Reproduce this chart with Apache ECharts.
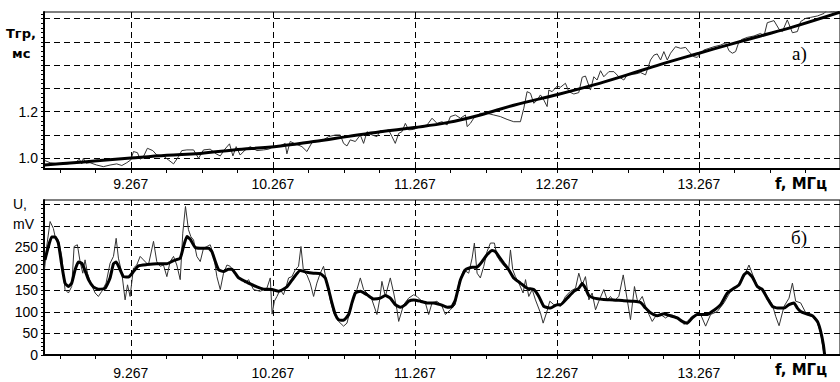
<!DOCTYPE html>
<html><head><meta charset="utf-8">
<script src="https://cdn.jsdelivr.net/npm/echarts@6/dist/echarts.min.js"></script>
<style>html,body{margin:0;padding:0;background:#fff}#c{width:840px;height:382px}</style>
</head><body><div id="c"></div>
<script>
// ---- tick labels / grid values ----
const xLabels = [9.267, 10.267, 11.267, 12.267, 13.267];
const topYLabels = [1.0, 1.2];
const topYGrid = [1.0, 1.1, 1.2, 1.3, 1.4, 1.5, 1.6];
const botYLabels = [0, 50, 100, 150, 200, 250];
const botYGrid = [50, 100, 150, 200, 250, 300, 350];

// ---- a) group delay, smooth fit [f MHz, ms] ----
const topCurve = [[8.66,0.971],[8.816,0.979],[9.051,0.990],[9.267,1.001],[9.521,1.013],[9.756,1.021],[9.991,1.036],[10.277,1.050],[10.554,1.072],[10.789,1.093],[11.024,1.114],[11.263,1.132],[11.494,1.153],[11.728,1.186],[11.963,1.228],[12.28,1.275],[12.527,1.315],[12.762,1.358],[12.997,1.403],[13.267,1.451],[13.467,1.486],[13.701,1.525],[13.936,1.565],[14.26,1.627]];

// ---- a) group delay, measured ----
const topNoisy = [[8.663,0.990],[8.699,0.981],[8.757,0.976],[8.816,0.976],[8.875,0.981],[8.905,0.996],[8.922,0.976],[8.933,1.000],[8.952,0.979],[8.98,0.981],[9.027,0.971],[9.074,0.964],[9.121,0.971],[9.168,0.976],[9.204,0.969],[9.239,0.981],[9.267,0.993],[9.286,1.029],[9.314,1.024],[9.333,0.996],[9.356,1.007],[9.384,1.043],[9.422,1.033],[9.45,1.014],[9.497,1.010],[9.532,0.993],[9.568,0.976],[9.603,1.007],[9.626,1.033],[9.662,1.036],[9.709,1.036],[9.744,1.000],[9.779,1.036],[9.826,1.039],[9.868,1.019],[9.897,1.010],[9.925,1.036],[9.962,1.062],[9.986,1.010],[10.009,1.050],[10.037,1.014],[10.073,1.036],[10.108,1.050],[10.155,1.033],[10.202,1.036],[10.237,1.039],[10.272,1.050],
[10.319,1.053],[10.354,1.064],[10.366,1.019],[10.389,1.072],[10.425,1.062],[10.472,1.050],[10.507,1.029],[10.542,1.067],[10.577,1.072],[10.624,1.079],[10.66,1.093],[10.707,1.100],[10.742,1.100],[10.765,1.064],[10.789,1.053],[10.812,1.079],[10.848,1.072],[10.883,1.100],[10.906,1.064],[10.93,1.114],[10.965,1.100],[11.0,1.093],[11.024,1.119],[11.047,1.114],[11.082,1.122],[11.106,1.093],[11.129,1.064],[11.153,1.107],[11.176,1.114],[11.2,1.150],[11.223,1.122],[11.259,1.124],[11.306,1.136],[11.353,1.143],[11.388,1.172],[11.423,1.150],[11.458,1.157],[11.494,1.143],[11.517,1.179],[11.552,1.186],[11.588,1.172],[11.623,1.186],[11.635,1.136],[11.658,1.150],[11.681,1.172],[11.728,1.193],[11.775,1.193],[11.822,1.186],[11.869,1.179],[11.916,1.167],[11.963,1.157],[12.01,1.157],[12.034,1.215],[12.057,1.286],[12.081,1.279],[12.104,1.236],[12.128,1.250],[12.151,1.272],[12.175,1.250],[12.198,1.222],[12.21,1.293],[12.233,1.286],[12.269,1.310],
[12.292,1.305],[12.327,1.322],[12.351,1.286],[12.386,1.276],[12.421,1.282],[12.445,1.348],[12.468,1.353],[12.503,1.293],[12.527,1.350],[12.55,1.336],[12.574,1.376],[12.597,1.350],[12.633,1.372],[12.668,1.372],[12.703,1.350],[12.738,1.336],[12.762,1.358],[12.785,1.362],[12.821,1.362],[12.856,1.368],[12.891,1.358],[12.926,1.422],[12.95,1.443],[12.973,1.448],[12.997,1.422],[13.02,1.458],[13.044,1.422],[13.067,1.451],[13.102,1.479],[13.138,1.472],[13.173,1.476],[13.196,1.458],[13.22,1.443],[13.232,1.436],[13.255,1.433],[13.279,1.451],[13.302,1.465],[13.337,1.472],[13.373,1.479],[13.42,1.486],[13.455,1.496],[13.478,1.462],[13.502,1.451],[13.525,1.458],[13.549,1.501],[13.572,1.511],[13.607,1.519],[13.654,1.525],[13.701,1.536],[13.725,1.525],[13.748,1.582],[13.795,1.591],[13.831,1.554],[13.854,1.544],[13.889,1.594],[13.925,1.539],[13.96,1.544],[13.983,1.587],[14.019,1.601],[14.054,1.605],[14.101,1.611],[14.148,1.622],[14.171,1.637],[14.206,1.629],[14.242,1.634],[14.26,1.637]];

// ---- б) amplitude, smoothed [f MHz, mV] ----
const botSmooth = [[8.663,221],[8.687,252],[8.71,274],[8.734,274],[8.757,260],[8.781,209],[8.804,167],[8.828,159],[8.851,167],[8.875,198],[8.898,216],[8.922,213],[8.945,196],[8.969,175],[9.004,158],[9.039,153],[9.086,155],[9.121,179],[9.145,212],[9.164,216],[9.192,198],[9.215,182],[9.251,181],[9.286,194],[9.321,207],[9.38,210],[9.45,212],[9.521,212],[9.568,219],[9.615,225],[9.638,252],[9.662,275],[9.685,269],[9.72,250],[9.756,248],[9.815,248],[9.838,240],[9.862,217],[9.885,198],[9.92,194],[9.955,199],[9.979,199],[10.002,190],[10.026,179],[10.061,173],[10.108,165],[10.155,158],[10.202,153],[10.261,152],[10.308,148],
[10.366,158],[10.413,179],[10.46,196],[10.507,192],[10.554,190],[10.601,189],[10.636,179],[10.66,152],[10.683,121],[10.707,94],[10.73,82],[10.765,81],[10.801,94],[10.824,121],[10.848,144],[10.883,148],[10.93,140],[10.977,130],[11.024,132],[11.059,138],[11.094,132],[11.129,117],[11.165,111],[11.2,117],[11.223,125],[11.259,128],[11.306,125],[11.353,121],[11.4,121],[11.447,117],[11.494,111],[11.529,113],[11.552,128],[11.588,175],[11.623,198],[11.67,204],[11.705,204],[11.74,217],[11.775,233],[11.811,243],[11.834,240],[11.858,229],[11.893,213],[11.928,198],[11.963,179],[12.01,167],[12.057,155],[12.104,152],[12.14,136],[12.175,113],[12.222,109],[12.269,117],
[12.292,117],[12.339,132],[12.386,148],[12.421,155],[12.445,166],[12.468,155],[12.492,138],[12.527,132],[12.597,129],[12.668,128],[12.738,126],[12.809,125],[12.856,122],[12.891,109],[12.926,98],[12.973,91],[13.02,96],[13.067,91],[13.114,86],[13.149,78],[13.185,74],[13.22,86],[13.255,94],[13.326,94],[13.373,104],[13.42,117],[13.467,144],[13.513,155],[13.549,163],[13.584,186],[13.607,192],[13.643,181],[13.678,159],[13.713,152],[13.748,132],[13.784,113],[13.819,109],[13.866,109],[13.901,117],[13.936,121],[13.96,109],[13.983,101],[14.019,96],[14.066,91],[14.101,78],[14.124,55],[14.143,24],[14.152,0]];

// ---- б) amplitude, measured ----
const botNoisy = [[8.66,200],[8.675,252],[8.699,310],[8.722,294],[8.734,275],[8.757,267],[8.781,229],[8.804,152],[8.828,144],[8.851,159],[8.868,252],[8.891,256],[8.91,217],[8.929,190],[8.945,221],[8.962,190],[8.985,167],[9.016,144],[9.039,136],[9.063,148],[9.093,167],[9.121,213],[9.145,229],[9.164,271],[9.18,225],[9.204,190],[9.227,128],[9.244,163],[9.262,136],[9.286,202],[9.309,209],[9.333,229],[9.356,221],[9.391,209],[9.427,264],[9.45,217],[9.474,206],[9.497,209],[9.521,182],[9.544,217],[9.568,229],[9.591,209],[9.615,175],[9.633,283],[9.652,345],[9.673,291],[9.69,275],[9.709,267],[9.732,229],[9.756,217],[9.779,248],[9.803,252],[9.826,256],[9.85,233],[9.873,182],[9.897,152],[9.92,190],[9.944,209],[9.967,206],[9.991,194],[10.014,186],[10.037,179],[10.073,167],[10.096,175],[10.131,152],[10.178,148],[10.225,155],[10.249,179],[10.262,95],[10.278,125],[10.296,136],[10.319,152],
[10.342,140],[10.361,159],[10.378,179],[10.401,182],[10.425,198],[10.448,206],[10.465,252],[10.483,194],[10.507,186],[10.53,167],[10.554,136],[10.577,167],[10.601,190],[10.624,206],[10.648,167],[10.671,128],[10.695,98],[10.73,78],[10.765,67],[10.789,74],[10.824,121],[10.859,152],[10.883,179],[10.906,152],[10.93,144],[10.965,128],[11.0,94],[11.019,128],[11.035,171],[11.059,136],[11.094,179],[11.118,144],[11.141,105],[11.153,78],[11.188,117],[11.223,132],[11.259,140],[11.282,136],[11.306,128],[11.341,121],[11.364,94],[11.388,121],[11.423,125],[11.458,113],[11.482,94],[11.517,105],[11.552,117],[11.576,167],[11.611,198],[11.646,190],[11.67,225],[11.686,260],[11.705,190],[11.728,179],[11.752,206],[11.775,240],[11.799,260],[11.827,260],[11.846,229],[11.869,217],[11.898,206],[11.928,202],[11.94,244],[11.956,198],[11.975,182],[11.999,167],[12.029,144],[12.046,175],[12.069,136],[12.093,152],[12.116,128],[12.151,98],[12.17,74],[12.194,98],[12.217,125],[12.245,117],[12.269,117],
[12.292,113],[12.327,136],[12.362,148],[12.398,155],[12.421,190],[12.445,163],[12.468,182],[12.492,128],[12.515,144],[12.539,105],[12.562,125],[12.597,152],[12.621,128],[12.644,136],[12.668,125],[12.703,136],[12.734,186],[12.762,128],[12.785,82],[12.813,159],[12.837,121],[12.868,136],[12.891,113],[12.915,94],[12.938,78],[12.962,90],[12.997,94],[13.032,86],[13.067,94],[13.102,90],[13.138,82],[13.161,71],[13.185,78],[13.22,90],[13.255,94],[13.279,94],[13.314,67],[13.349,94],[13.396,101],[13.443,121],[13.49,148],[13.537,159],[13.584,182],[13.619,209],[13.654,179],[13.69,152],[13.713,155],[13.748,136],[13.784,117],[13.807,90],[13.831,68],[13.866,113],[13.901,132],[13.925,167],[13.948,125],[13.983,121],[14.019,98],[14.066,91],[14.101,74],[14.124,51],[14.148,0]];

// ---- axis ranges ----
const X_MIN = 8.656, X_MAX = 14.26;
const TOP_MIN = 0.954, TOP_MAX = 1.628;
const BOT_MIN = 0, BOT_MAX = 360;

const xTicks = []; for (let k = 0; 8.767 + 0.25 * k < X_MAX; k++) xTicks.push(+(8.767 + 0.25 * k).toFixed(3));
const topYTicks = []; for (let k = 0; 0.96 + 0.02 * k <= 1.621; k++) topYTicks.push(+(0.96 + 0.02 * k).toFixed(2));
const botYTicks = []; for (let k = 0; k * 10 <= 350; k++) botYTicks.push(k * 10);

const FONT = '"Liberation Sans", Arial, sans-serif';
const DASH = { color: '#000', type: [6, 4], width: 1 };

function mkX(gi, margin) {
  return {
    type: 'value', gridIndex: gi, min: X_MIN, max: X_MAX, position: 'bottom',
    axisLine: { show: true, onZero: false, lineStyle: { color: '#000', width: 2 } },
    axisTick: { show: true, customValues: xTicks, length: 4, lineStyle: { color: '#000', width: 1 } },
    axisLabel: { show: true, customValues: xLabels, formatter: v => v.toFixed(3), color: '#000', fontSize: 14, fontFamily: FONT, margin: margin },
    splitLine: { show: false }, minorTick: { show: false }
  };
}
function mkXGrid(gi) {
  return {
    type: 'value', gridIndex: gi, min: X_MIN, max: X_MAX, position: 'bottom',
    axisLine: { show: false, onZero: false }, axisLabel: { show: false },
    axisTick: { show: false, customValues: xLabels },
    splitLine: { show: true, lineStyle: DASH }, minorTick: { show: false }
  };
}
function mkY(gi, min, max, ticks, labels, fmt) {
  return {
    type: 'value', gridIndex: gi, min: min, max: max, position: 'left',
    axisLine: { show: true, onZero: false, lineStyle: { color: '#000', width: 2 } },
    axisTick: { show: true, customValues: ticks, length: 3, lineStyle: { color: '#000', width: 1 } },
    axisLabel: { show: true, customValues: labels, formatter: fmt, color: '#000', fontSize: 14, fontFamily: FONT, margin: 6 },
    splitLine: { show: false }, minorTick: { show: false }
  };
}
function mkYGrid(gi, min, max, vals) {
  return {
    type: 'value', gridIndex: gi, min: min, max: max, position: 'left',
    axisLine: { show: false, onZero: false }, axisLabel: { show: false },
    axisTick: { show: false, customValues: vals },
    splitLine: { show: true, lineStyle: DASH }, minorTick: { show: false }
  };
}

const chart = echarts.init(document.getElementById('c'), null, { renderer: 'svg' });
chart.setOption({
  animation: false,
  backgroundColor: '#fff',
  grid: [
    { left: 44, top: 12, right: 0, height: 157, show: true, borderColor: '#000', borderWidth: 1, backgroundColor: 'transparent', containLabel: false, outerBoundsMode: 'none' },
    { left: 44, top: 200, right: 0, height: 155, show: true, borderColor: '#000', borderWidth: 1, backgroundColor: 'transparent', containLabel: false, outerBoundsMode: 'none' }
  ],
  xAxis: [mkX(0, 8), mkX(1, 11), mkXGrid(0), mkXGrid(1)],
  yAxis: [
    mkY(0, TOP_MIN, TOP_MAX, topYTicks, topYLabels, v => v.toFixed(1)),
    mkY(1, BOT_MIN, BOT_MAX, botYTicks, botYLabels, v => String(v)),
    mkYGrid(0, TOP_MIN, TOP_MAX, topYGrid),
    mkYGrid(1, BOT_MIN, BOT_MAX, botYGrid)
  ],
  series: [
    { type: 'line', xAxisIndex: 0, yAxisIndex: 0, data: topNoisy, showSymbol: false, z: 2,
      lineStyle: { color: '#333', width: 1 } },
    { type: 'line', xAxisIndex: 0, yAxisIndex: 0, data: topCurve, showSymbol: false, smooth: 0.4, z: 3,
      lineStyle: { color: '#000', width: 3 } },
    { type: 'line', xAxisIndex: 1, yAxisIndex: 1, data: botNoisy, showSymbol: false, z: 2,
      lineStyle: { color: '#333', width: 1 } },
    { type: 'line', xAxisIndex: 1, yAxisIndex: 1, data: botSmooth, showSymbol: false, smooth: 0.15, z: 3,
      lineStyle: { color: '#000', width: 3 } }
  ],
  graphic: [
    { type: 'text', left: 6, top: 27, style: { text: 'Тгр,', font: 'bold 13px "DejaVu Sans"', fill: '#000' } },
    { type: 'text', left: 12, top: 47, style: { text: 'мс', font: 'bold 13px "DejaVu Sans"', fill: '#000' } },
    { type: 'text', left: 13, top: 197, style: { text: 'U,', font: '14px "Liberation Sans"', fill: '#000' } },
    { type: 'text', left: 13, top: 217, style: { text: 'mV', font: '14px "Liberation Sans"', fill: '#000' } },
    { type: 'text', left: 775, top: 176, style: { text: 'f, МГц', font: 'bold 15px "DejaVu Sans"', fill: '#000' } },
    { type: 'text', left: 775, top: 362, style: { text: 'f, МГц', font: 'bold 15px "DejaVu Sans"', fill: '#000' } },
    { type: 'text', left: 792, top: 44, style: { text: 'а)', font: '19px "Liberation Serif"', fill: '#000' } },
    { type: 'text', left: 791, top: 228, style: { text: 'б)', font: '19px "Liberation Serif"', fill: '#000' } }
  ]
});
</script>
</body></html>
